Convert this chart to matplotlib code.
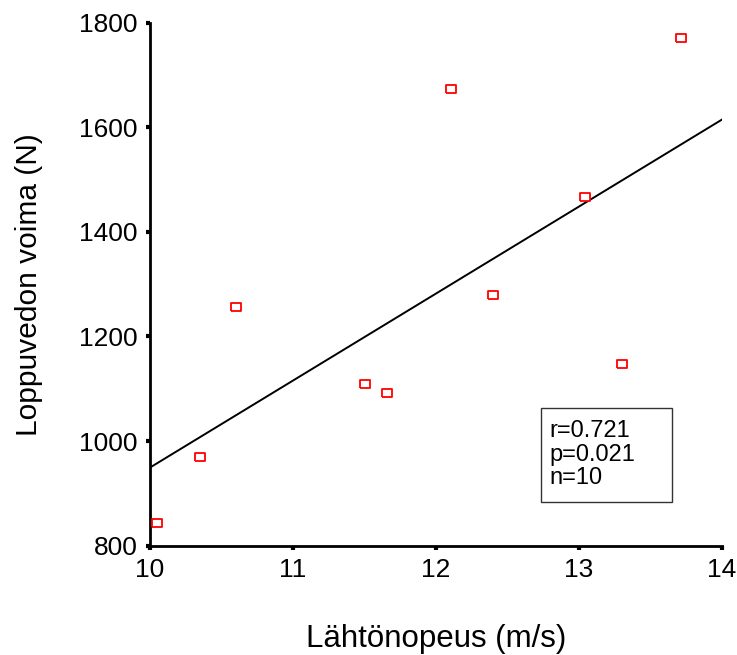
import matplotlib
matplotlib.use("Agg")
import matplotlib.pyplot as plt
from matplotlib.patches import Rectangle
import numpy as np

plt.rcParams['font.family'] = ['Liberation Sans', 'DejaVu Sans']

speed = [10.05, 10.35, 10.60, 11.50, 11.66, 12.105, 12.40, 13.044, 13.30, 13.71]
force = [844, 969, 1256, 1109, 1092, 1674, 1279, 1467, 1147, 1770]
x_ticks = [10, 11, 12, 13, 14]
y_ticks = [800, 1000, 1200, 1400, 1600, 1800]
stats_text = "r=0.721\np=0.021\nn=10"

fig = plt.figure(figsize=(7.37, 6.55), dpi=100)
ax = fig.add_axes([150/737, 1-545.6/655, (722-150)/737, (545.6-22.7)/655])

rect = [(-1.25, -1), (1.25, -1), (1.25, 1), (-1.25, 1), (-1.25, -1)]
ax.scatter(speed, force, marker=rect, s=45, facecolors='white', edgecolors='#ff0000',
           linewidths=1.3, zorder=3)

slope, intercept = np.polyfit(speed, force, 1)
xl = np.array([10, 14])
ax.plot(xl, intercept + slope * xl, color='black', lw=1.4, zorder=2)

ax.set_xlim(10, 14)
ax.set_ylim(800, 1800)
ax.set_xticks(x_ticks)
ax.set_yticks(y_ticks)
ax.set_xticklabels([str(t) for t in x_ticks])
ax.set_yticklabels([str(t) for t in y_ticks])
for s in ['top', 'right']:
    ax.spines[s].set_visible(False)
for s in ['left', 'bottom']:
    ax.spines[s].set_linewidth(2)
ax.tick_params(axis='both', direction='out', length=3, width=3, labelsize=19, pad=6)

ax.set_xlabel("Lähtönopeus (m/s)", fontsize=22.5, labelpad=30)
ax.set_ylabel("Loppuvedon voima (N)", fontsize=21.5, labelpad=26)

ax.add_patch(Rectangle((0.6836, 0.0828), 0.229, 0.1798, transform=ax.transAxes,
                       facecolor='white', edgecolor='#333333', lw=1, zorder=4))
ax.text(0.699, 0.174, stats_text, transform=ax.transAxes, fontsize=17,
        va='center', ha='left', linespacing=1.1, zorder=5)

fig.savefig("out.png", dpi=100)
